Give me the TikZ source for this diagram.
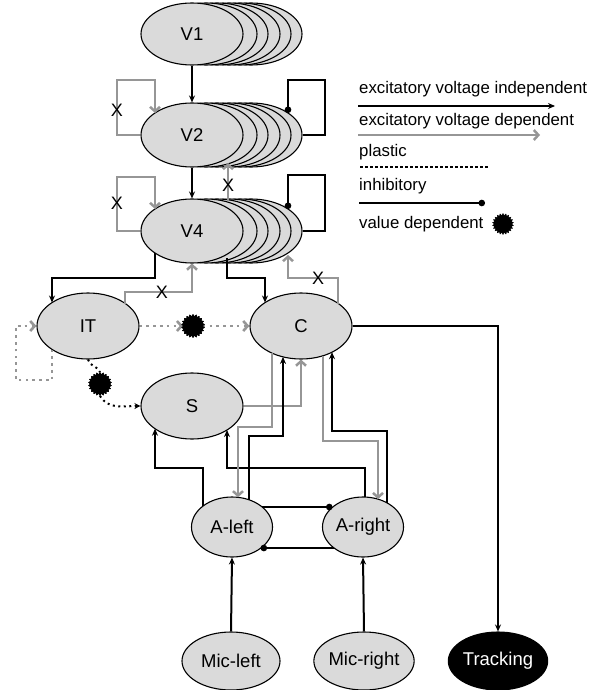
\documentclass[tikz,border=0pt]{standalone}
\usepackage{fontspec}
\setmainfont{Liberation Sans}
\usetikzlibrary{arrows.meta,shapes.geometric,shapes.symbols,calc}
\definecolor{nodefill}{RGB}{218,218,218}
\definecolor{linegray}{RGB}{150,150,150}
\begin{document}
\begin{tikzpicture}[x=1pt,y=-1pt,
  ell/.style={ellipse, draw=black, line width=1.1pt, fill=nodefill, inner sep=0pt,
    font=\fontsize{18.5}{22}\selectfont},
  big/.style={ell, minimum width=102pt, minimum height=64pt},
  small/.style={ell, minimum width=81pt, minimum height=60pt},
  mic/.style={ell, minimum width=98pt, minimum height=58pt},
  blk/.style={draw=black, line width=2pt, -{Stealth[length=7pt,width=6pt]}},
  gr/.style={draw=linegray, line width=2.5pt, -{Straight Barb[length=4.5pt,width=10pt]}},
  inh/.style={draw=black, line width=2pt, -{Circle[length=6.5pt]}},
  plast/.style={line width=2.6pt, dash pattern=on 2.6pt off 4.2pt},
  vd/.style={starburst, starburst points=22, starburst point height=2pt, random starburst=0,
    fill=black, draw=black, inner sep=0pt, minimum width=23pt, minimum height=23pt},
  xlab/.style={font=\fontsize{18}{20}\selectfont, inner sep=0pt},
  leg/.style={anchor=west, inner sep=0pt, font=\fontsize{16.8}{19}\selectfont}
]
\useasboundingbox (0,0) rectangle (600,690);

% stacked populations
\foreach \o/\n in {59/5,48/4,37/3,25/2,14/1}{
  \node[big, minimum height=62pt] (V1s\n) at (192+\o,34) {};
}
\node[big, minimum height=62pt] (V1) at (192,34) {V1};
\foreach \o/\n in {59/5,48/4,37/3,25/2,14/1}{
  \node[big] (V2s\n) at (192+\o,135) {};
}
\node[big] (V2) at (192,135) {V2};
\foreach \o/\n in {59/5,48/4,37/3,25/2,14/1}{
  \node[big] (V4s\n) at (192+\o,231) {};
}
\node[big] (V4) at (192,231) {V4};

\node[big, minimum height=66pt] (IT) at (88,326) {IT};
\node[big, minimum height=66pt] (C) at (301,326) {C};
\node[big, minimum height=66pt] (S) at (192,406) {S};
\node[small] (AL) at (232,527) {A-left};
\node[small] (AR) at (363,527) {A-right};
\node[mic] (ML) at (231,661) {Mic-left};
\node[mic] (MR) at (364,661) {Mic-right};
\node[mic, fill=black, text=white] (TR) at (498,661) {Tracking};

% V1 -> V2 -> V4
\draw[blk] (V1.south) -- (V2.north);
\draw[blk] (V2.south) -- (V4.north);

% V2 loops
\draw[gr] (V2.west) -- (117,135) -- (117,80) -- (155,80) -- ($(V2)+(-37,-22)$);
\node[xlab] (x1) at (117,110) {X};
\draw[inh] (V2s5.east) -- (325,135) -- (325,80) -- (288,80) -- ($(V2s5)+(37,-22)$);

% V4 loops
\draw[gr] (V4.west) -- (117,231) -- (117,177) -- (155,177) -- ($(V4)+(-37,-22)$);
\node[xlab] (x2) at (117,203) {X};
\draw[inh] (V4s5.east) -- (325,231) -- (325,175) -- (288,175) -- ($(V4s5)+(37,-22)$);

% V4 -> V2 (gray, X)
\draw[gr] ($(V4)+(36,-30)$) -- ($(V2)+(36,28)$);
\node[xlab] (x3) at (228,185) {X};

% V4 -> IT, V4 -> C
\draw[blk] ($(V4)+(-37,22)$) -- (155,278) -- (52,278) -- ($(IT)+(-36,-23.5)$);
\draw[blk] ($(V4)+(35,27)$) -- (227,278) -- (265,278) -- ($(C)+(-36,-23.5)$);

% IT -> V4 (gray, X)
\draw[gr] ($(IT)+(37,-22.5)$) -- (125,292) -- (192,292) -- (V4.south);
\node[xlab] (x4) at (162,292) {X};

% C -> V4 (gray, X)
\draw[gr] ($(C)+(37,-22.5)$) -- (338,278) -- (288,278) -- ($(V4s5)+(37,24)$);
\node[xlab] (x5) at (318,278) {X};

% IT -> C plastic, value dependent
\node[vd] (vd1) at (193,326) {};
\draw[gr, plast] (IT.east) -- (vd1.west);
\draw[gr, plast] (vd1.east) -- (C.west);
\node[vd] at (193,326) {};

% IT self loop plastic
\draw[gr, plast] ($(IT)+(-36,23.5)$) -- (52,380) -- (16,380) -- (16,326) -- (IT.west);

% IT -> S plastic black, value dependent
\node[vd] (vd2) at (100,384) {};
\draw[line width=2pt, dash pattern=on 2pt off 3.5pt] (IT.south) to[out=-80,in=110] (vd2.north);
\draw[line width=2pt, dash pattern=on 2pt off 3.5pt, -{Stealth[length=6pt,width=6pt]}]
  (vd2.south) to[out=-60,in=180] (S.west);
\node[vd] at (100,384) {};

% C -> Tracking
\draw[blk] (C.east) -- (498,326) -- (TR.north);

% S -> C
\draw[gr] (S.east) -- (301,406) -- (C.south);

% A-left -> S, A-right -> S
\draw[blk] ($(AL)+(-29,-20.7)$) -- (203,468) -- (155,468) -- ($(S)+(-37,22.7)$);
\draw[blk] ($(AR)+(2,-30)$) -- (365,468) -- (227,468) -- ($(S)+(35,24)$);

% A-left <-> C
\draw[blk] ($(AL)+(17,-27)$) -- (249,436) -- (283,436) -- ($(C)+(-18,30.9)$);
\draw[gr] ($(C)+(-29,27)$) -- (272,427) -- (238,427) -- ($(AL)+(6,-29.7)$);

% A-right <-> C
\draw[gr] ($(C)+(22,29.8)$) -- (323,441) -- (378,441) -- ($(AR)+(15,-27.9)$);
\draw[blk] ($(AR)+(24,-24.3)$) -- (387,431) -- (332,431) -- ($(C)+(31,26.2)$);

% mutual inhibition
\draw[inh] ($(AL)+(29.8,-20)$) -- ($(AR)+(-30.5,-20)$);
\draw[inh] ($(AR)+(-29.3,21)$) -- ($(AL)+(28.6,21)$);

% microphones
\draw[blk] (ML.north) -- (AL.south);
\draw[blk] (MR.north) -- (AR.south);

% legend
\node[leg] (t1) at (359,89) {excitatory voltage independent};
\coordinate (l1a) at (358,106);
\coordinate (l1b) at (555,106);
\draw[blk] (l1a) -- (l1b);
\node[leg] (t2) at (359,121) {excitatory voltage dependent};
\coordinate (l2a) at (358,135);
\coordinate (l2b) at (540,135);
\draw[gr] (l2a) -- (l2b);
\node[leg] (t3) at (359,152) {plastic};
\coordinate (l3a) at (360,167);
\coordinate (l3b) at (489,167);
\draw[line width=2.6pt, dash pattern=on 2.6pt off 2.4pt] (l3a) -- (l3b);
\node[leg] (t4) at (359,186) {inhibitory};
\coordinate (l4a) at (359,203);
\coordinate (l4b) at (485,203);
\draw[inh] (l4a) -- (l4b);
\node[leg] (t5) at (359,224) {value dependent};
\node[vd, minimum width=21pt, minimum height=21pt] (vd3) at (503,224) {};
\end{tikzpicture}
\end{document}
